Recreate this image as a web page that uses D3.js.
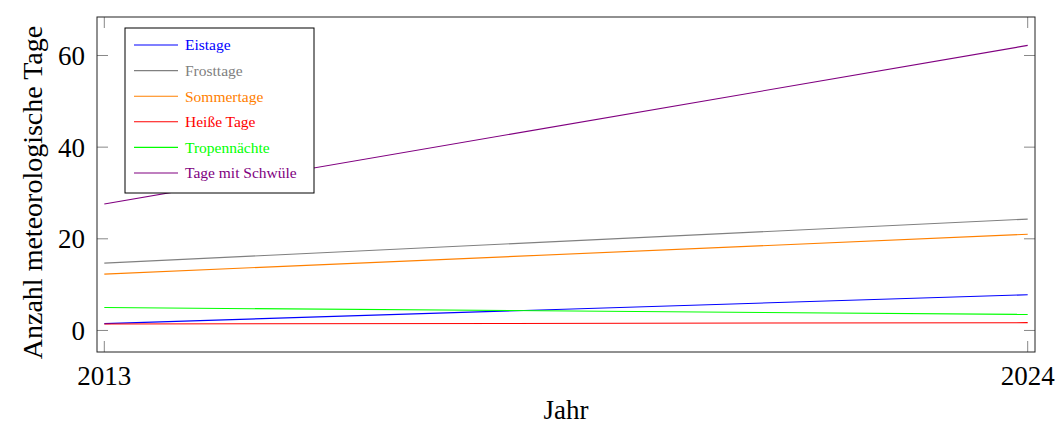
<!DOCTYPE html>
<meta charset="utf-8">
<style>
  body { margin: 0; background: #fff; }
  svg { display: block; }
  .lab { font-family: "Liberation Serif", serif; font-size: 27px; fill: #000; }
  .ylab { font-family: "Liberation Serif", serif; font-size: 28px; fill: #000; }
  .leg text { font-family: "Liberation Serif", serif; font-size: 15.5px; }
</style>
<div id="chart"></div>
<script src="https://d3js.org/d3.v7.min.js"></script>
<script>
// data
var years = [2013, 2024];
var names = ["Eistage", "Frosttage", "Sommertage", "Heiße Tage", "Tropennächte", "Tage mit Schwüle"];
var colors = ["#0000ff", "#808080", "#ff8000", "#ff0000", "#00ff00", "#800080"];
var eistage = [1.5, 7.8];
var frosttage = [14.7, 24.3];
var sommertage = [12.3, 21.0];
var heisseTage = [1.4, 1.7];
var tropennaechte = [5.0, 3.5];
var schwuele = [27.6, 62.2];
var yTicks = [0, 20, 40, 60];

var series = [eistage, frosttage, sommertage, heisseTage, tropennaechte, schwuele];

var width = 1058, height = 426;
var margin = {top: 17, right: 23, bottom: 74, left: 97};
var iw = width - margin.left - margin.right,
    ih = height - margin.top - margin.bottom;

var svg = d3.select("#chart").append("svg")
    .attr("width", width)
    .attr("height", height);
var g = svg.append("g")
    .attr("transform", "translate(" + margin.left + "," + margin.top + ")");

var x = d3.scaleLinear().domain([2012.913, 2024.087]).range([0, iw]);
var y = d3.scaleLinear().domain([-4.7, 68.4]).range([ih, 0]);

// ticks, inside on all four sides
var tickLen = 11;
var tg = g.append("g").attr("stroke", "#888").attr("stroke-width", 1);
yTicks.forEach(function (t) {
    tg.append("line").attr("x1", 0).attr("x2", tickLen).attr("y1", y(t)).attr("y2", y(t));
    tg.append("line").attr("x1", iw).attr("x2", iw - tickLen).attr("y1", y(t)).attr("y2", y(t));
});
years.forEach(function (t) {
    tg.append("line").attr("x1", x(t)).attr("x2", x(t)).attr("y1", ih).attr("y2", ih - tickLen);
    tg.append("line").attr("x1", x(t)).attr("x2", x(t)).attr("y1", 0).attr("y2", tickLen);
});

// tick labels
g.selectAll(".yl").data(yTicks).enter().append("text")
    .attr("class", "lab")
    .attr("x", -12)
    .attr("y", function (d) { return y(d); })
    .attr("dy", "0.35em")
    .attr("text-anchor", "end")
    .text(function (d) { return d; });
g.selectAll(".xl").data(years).enter().append("text")
    .attr("class", "lab")
    .attr("x", function (d) { return x(d); })
    .attr("y", ih + 33)
    .attr("text-anchor", "middle")
    .text(function (d) { return d; });

// lines
var line = d3.line()
    .x(function (d, i) { return x(years[i]); })
    .y(function (d) { return y(d); });
g.selectAll(".series").data(series).enter().append("path")
    .attr("fill", "none")
    .attr("stroke", function (d, i) { return colors[i]; })
    .attr("stroke-width", 1.1)
    .attr("d", line);

// frame
g.append("rect")
    .attr("width", iw).attr("height", ih)
    .attr("fill", "none").attr("stroke", "#222").attr("stroke-width", 1);

// legend
var leg = g.append("g").attr("class", "leg")
    .attr("transform", "translate(28,11)");
leg.append("rect")
    .attr("width", 189).attr("height", 165)
    .attr("fill", "#fff").attr("stroke", "#000").attr("stroke-width", 1);
names.forEach(function (n, i) {
    var yy = 17 + i * 25.6;
    leg.append("line")
        .attr("x1", 9).attr("x2", 53).attr("y1", yy).attr("y2", yy)
        .attr("stroke", colors[i]).attr("stroke-width", 1.1);
    leg.append("text")
        .attr("x", 60).attr("y", yy).attr("dy", "0.35em")
        .attr("fill", colors[i])
        .text(n);
});

// axis titles
svg.append("text").attr("class", "lab")
    .attr("x", margin.left + x(2018.5)).attr("y", 419)
    .attr("text-anchor", "middle")
    .text("Jahr");
svg.append("text").attr("class", "ylab")
    .attr("transform", "translate(42," + (margin.top + ih / 2 + 8) + ") rotate(-90)")
    .attr("text-anchor", "middle")
    .text("Anzahl meteorologische Tage");
</script>
